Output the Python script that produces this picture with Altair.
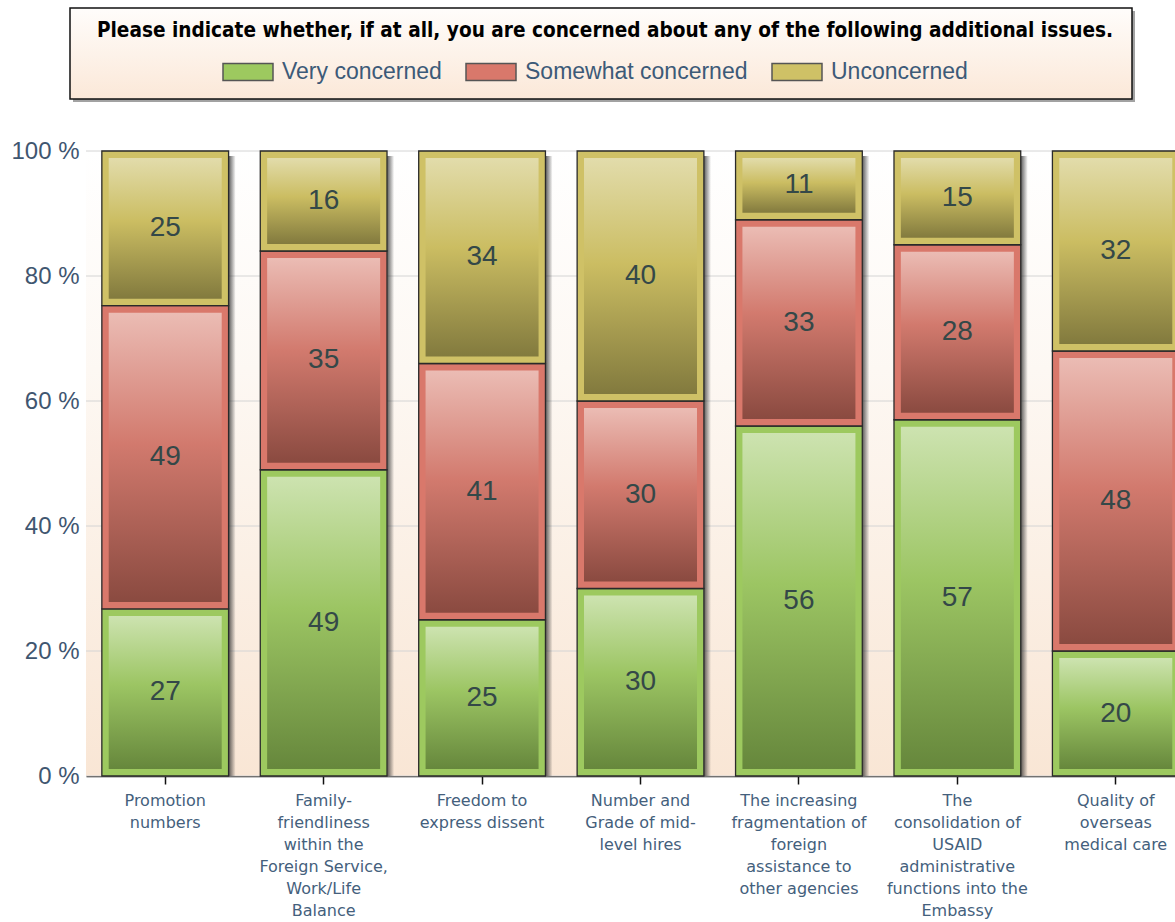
import altair as alt
import pandas as pd

categories = [
    "Promotion|numbers",
    "Family-|friendliness|within the|Foreign Service,|Work/Life|Balance",
    "Freedom to|express dissent",
    "Number and|Grade of mid-|level hires",
    "The increasing|fragmentation of|foreign|assistance to|other agencies",
    "The|consolidation of|USAID|administrative|functions into the|Embassy",
    "Quality of|overseas|medical care",
]
series = ["Very concerned", "Somewhat concerned", "Unconcerned"]
very = [27, 49, 25, 30, 56, 57, 20]
somewhat = [49, 35, 41, 30, 33, 28, 48]
unconcerned = [25, 16, 34, 40, 11, 15, 32]
y_ticks = [0, 0.2, 0.4, 0.6, 0.8, 1.0]
title_text = "Please indicate whether, if at all, you are concerned about any of the following additional issues."

outer_colors = ["#9dc95f", "#d9786b", "#cfc166"]
grad_colors = {
    "Very concerned": ("#cde3b0", "#9cc563", "#66873c"),
    "Somewhat concerned": ("#ebbcb4", "#d27a6e", "#8a4a40"),
    "Unconcerned": ("#e2dcab", "#cbbd62", "#827a3e"),
}

rows = []
for i, c in enumerate(categories):
    for j, (s, vals) in enumerate(zip(series, [very, somewhat, unconcerned])):
        rows.append({"category": c, "series": s, "order": j, "value": vals[i]})
df = pd.DataFrame(rows)

W, H = 1089, 625
LABEL_COLOR = "#44607c"

def vgrad(stops):
    return alt.LinearGradient(
        gradient="linear", x1=0, x2=0, y1=0, y2=1,
        stops=[alt.GradientStop(color=c, offset=o) for o, c in stops],
    )

xscale = alt.Scale(domain=categories, range=[0, 1109], paddingInner=0.2, paddingOuter=0.1)
yscale = alt.Scale(domain=[0, 1])

xaxis = alt.Axis(
    labelExpr="split(datum.label, '|')", labelAngle=0, labelFont="DejaVu Sans",
    labelFontSize=16, labelLineHeight=22, labelColor=LABEL_COLOR, labelPadding=8,
    domainColor="#111111", domainWidth=1.5, tickColor="#111111", tickWidth=1.5,
    tickSize=8, labelLimit=300, grid=False, title=None,
)
yaxis = alt.Axis(
    values=y_ticks, labelExpr="format(datum.value * 100, 'd') + ' %'",
    labelFont="Liberation Sans", labelFontSize=24, labelColor="#3f5670",
    labelPadding=7, ticks=False, domain=False, grid=False, title=None,
)

base = alt.Chart(df).transform_stack(
    stack="value", groupby=["category"], as_=["v0", "v1"], offset="normalize",
    sort=[alt.SortField("order", order="ascending")],
).transform_calculate(mid="(datum.v0 + datum.v1) / 2")

xenc = alt.X("category:N", scale=xscale, sort=categories, axis=xaxis, title=None)

def yenc(field):
    return alt.Y(field, scale=yscale, axis=yaxis, title=None)

one = alt.Data(values=[{"a": 1}])

# background of the plot area
bg = alt.Chart(one).mark_rect(
    fill=vgrad([(0, "#ffffff"), (0.35, "#fdf8f3"), (1, "#f9e6d5")])
).encode(x=alt.value(0), x2=alt.value("width"), y=alt.value(0), y2=alt.value("height"))

grid = alt.Chart(pd.DataFrame({"t": y_ticks})).mark_rule(color="#d4d4d4", strokeWidth=1).encode(
    y=yenc("t:Q"), x=alt.value(0), x2=alt.value("width")
)

# legend box
box_shadow = alt.Chart(one).mark_rect(fill="#555555", opacity=0.55).encode(
    x=alt.value(-13), x2=alt.value(1049), y=alt.value(-140), y2=alt.value(-49)
)
box = alt.Chart(one).mark_rect(
    fill=vgrad([(0, "#fffdfb"), (1, "#fbe8d8")]), stroke="#111111", strokeWidth=1.5
).encode(x=alt.value(-16), x2=alt.value(1046), y=alt.value(-143), y2=alt.value(-52))
heading = alt.Chart(one).mark_text(
    text=title_text, font="Liberation Sans Narrow, Arial Narrow, DejaVu Sans Condensed, Liberation Sans",
    fontWeight="bold", fontSize=20.6, color="#000000", align="center", baseline="middle",
).encode(x=alt.value(519), y=alt.value(-120))

shadow = base.transform_filter(alt.datum.series == "Unconcerned").mark_bar(
    size=7, xOffset=67, yOffset=5,
    fill=alt.LinearGradient(
        gradient="linear", x1=0, x2=1, y1=0, y2=0,
        stops=[alt.GradientStop(color="rgba(40,40,40,0.75)", offset=0),
               alt.GradientStop(color="rgba(40,40,40,0)", offset=1)],
    ),
).encode(x=xenc, y=yenc("v1:Q"), y2=alt.value("height"))

outer = base.mark_bar(stroke="#2a2a2a", strokeWidth=1.3, opacity=1).encode(
    x=xenc,
    y=yenc("v1:Q"),
    y2="v0:Q",
    color=alt.Color(
        "series:N", sort=series,
        scale=alt.Scale(domain=series, range=outer_colors),
        legend=alt.Legend(
            title=None, orient="none", legendX=136, legendY=-105, direction="horizontal",
            symbolType="M-1,-0.34L1,-0.34L1,0.34L-1,0.34Z", symbolSize=2500,
            symbolStrokeColor="#555555", symbolStrokeWidth=1.5, symbolOpacity=1,
            labelFont="Liberation Sans", labelFontSize=23, labelColor="#3c5a78",
            labelOffset=8, columnPadding=21, zindex=1, labelLimit=400,
        ),
    ),
)

inner_layers = []
for s in series:
    light, mid, dark = grad_colors[s]
    inner_layers.append(
        base.transform_filter(alt.datum.series == s).mark_bar(
            size=113, yOffset=7, y2Offset=-7,
            fill=vgrad([(0, light), (0.45, mid), (1, dark)]),
        ).encode(x=xenc, y=yenc("v1:Q"), y2="v0:Q")
    )

labels = base.mark_text(
    font="Liberation Sans", fontSize=28, color="#344848", align="center", baseline="middle"
).encode(x=xenc, y=yenc("mid:Q"), text="value:Q")

chart = alt.layer(
    box_shadow, box, heading, bg, grid, shadow, outer, *inner_layers, labels
).properties(
    width=W, height=H,
    autosize=alt.AutoSizeParams(type="none"),
    padding={"left": 86, "top": 151, "right": 0, "bottom": 146},
).configure_view(stroke=None)

chart.save("out.html", embed_options={"renderer": "svg", "actions": False})
